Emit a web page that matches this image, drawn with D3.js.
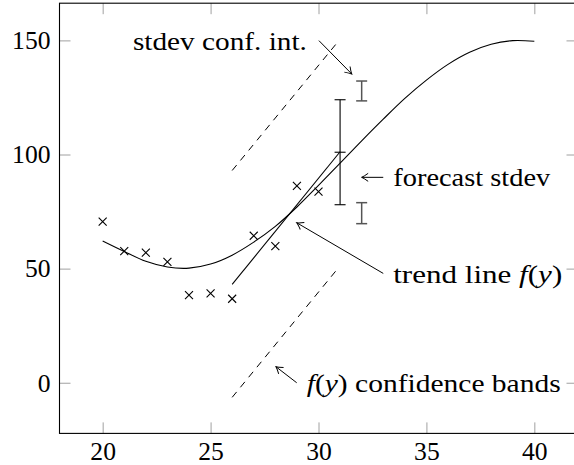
<!DOCTYPE html>
<html>
<head>
<meta charset="utf-8">
<script src="https://cdn.jsdelivr.net/npm/d3@7"></script>
<style>
  body { margin: 0; background: #fff; }
  text { font-family: "Liberation Serif", "Times New Roman", serif; fill: #000; }
</style>
</head>
<body>
<div id="chart"></div>
<script>
// tick values
const xTicks = [20, 25, 30, 35, 40];
const yTicks = [0, 50, 100, 150];

// observations (crosses)
const obsX = [20, 21, 22, 23, 24, 25, 26, 27, 28, 29, 30];
const obsY = [70.6, 57.7, 57.0, 53.0, 38.4, 39.2, 36.8, 64.4, 59.9, 86.3, 83.7];

// smooth fitted curve
const fitX = [20, 21, 22, 23, 24, 25, 26, 27, 28, 29, 30, 31, 32, 33, 34, 35, 36, 37, 38, 39, 40];
const fitY = [62.1, 57.5, 53.2, 50.7, 50.2, 52.0, 55.9, 61.6, 68.5, 77.0, 86.5, 96.2, 106.0, 115.5, 124.6, 132.6, 139.5, 144.8, 148.3, 149.9, 149.6];

// trend line f(y) and its confidence bands
const trendX = [26, 31];
const trendY = [43.1, 101.2];
const bandX = [26, 30.9];
const bandUpper = [93.0, 149.4];
const bandLower = [-6.4, 50.1];

// forecast with stdev at x = 31
const forecastX = 31;
const forecastLow = 78.0, forecastMid = 101.0, forecastHigh = 124.0;

// stdev confidence interval bars at x = 32
const ciX = 32;
const ciUpper = [123.5, 132.2];
const ciLower = [69.7, 78.9];

// annotations: label, arrow start, arrow end (data coordinates)
const notes = [
  {label: 'stdev conf. int.', side: 'left', len: 174, from: [30.02, 149.9], to: [31.54, 135.3]},
  {label: 'forecast stdev', side: 'right', len: 157, from: [33.0, 90.0], to: [32.0, 90.0]},
  {label: 'trend line ', math: 'f(y)', side: 'right', len: 169, from: [33.0, 47.9], to: [28.99, 70.1]},
  {label: ' confidence bands', math: 'f(y)', mathFirst: true, side: 'right', len: 254, from: [28.99, 0], to: [28.03, 7.0]}
];

const W = 574, H = 465;
const margin = {left: 59.5, right: -3.5, top: 3.2, bottom: 31.6};
const width = W - margin.left - margin.right;
const height = H - margin.top - margin.bottom;
const tickLen = 11;

const svg = d3.select('#chart')
  .append('svg')
  .attr('width', W)
  .attr('height', H);

svg.append('defs').append('marker')
  .attr('id', 'tip')
  .attr('markerUnits', 'userSpaceOnUse')
  .attr('viewBox', '-8 -5 10 10')
  .attr('refX', 0).attr('refY', 0)
  .attr('markerWidth', 10).attr('markerHeight', 10)
  .attr('orient', 'auto')
  .append('path')
  .attr('d', 'M-6.5,-4 Q-2,-0.8 0,0 Q-2,0.8 -6.5,4')
  .attr('fill', 'none')
  .attr('stroke', '#000')
  .attr('stroke-width', 1);

const chart = svg.append('g')
  .attr('transform', `translate(${margin.left}, ${margin.top})`);

const x = d3.scaleLinear().domain([18, 42]).range([0, width]);
const y = d3.scaleLinear().domain([-22.2, 166.3]).range([height, 0]);

// axes (ticks pointing inward on all four sides)
function styleAxis(g) {
  g.select('.domain').remove();
  g.selectAll('.tick line').attr('stroke', '#a0a0a0').attr('stroke-width', 1);
  g.selectAll('.tick text')
    .attr('font-size', 26)
    .attr('font-family', '"Liberation Serif", serif')
    .attr('textLength', d => String(d).length * 12.8)
    .attr('lengthAdjust', 'spacingAndGlyphs');
}

chart.append('g')
  .attr('transform', `translate(0, ${height})`)
  .call(d3.axisBottom(x).tickValues(xTicks).tickSize(-tickLen).tickPadding(8).tickSizeOuter(0))
  .call(styleAxis);

chart.append('g')
  .call(d3.axisTop(x).tickValues(xTicks).tickSize(-tickLen).tickFormat('').tickSizeOuter(0))
  .call(styleAxis);

chart.append('g')
  .call(d3.axisLeft(y).tickValues(yTicks).tickSize(-tickLen).tickPadding(9).tickSizeOuter(0))
  .call(styleAxis);

chart.append('g')
  .attr('transform', `translate(${width}, 0)`)
  .call(d3.axisRight(y).tickValues(yTicks).tickSize(-tickLen).tickFormat('').tickSizeOuter(0))
  .call(styleAxis);

chart.append('rect')
  .attr('width', width)
  .attr('height', height)
  .attr('fill', 'none')
  .attr('stroke', '#000')
  .attr('stroke-width', 1.1);

const line = d3.line().x(d => x(d[0])).y(d => y(d[1]));

// fitted curve
chart.append('path')
  .datum(d3.zip(fitX, fitY))
  .attr('d', line.curve(d3.curveCatmullRom))
  .attr('fill', 'none')
  .attr('stroke', '#000')
  .attr('stroke-width', 1.1);

line.curve(d3.curveLinear);

// trend line
chart.append('path')
  .datum(d3.zip(trendX, trendY))
  .attr('d', line)
  .attr('fill', 'none')
  .attr('stroke', '#000')
  .attr('stroke-width', 1.1);

// confidence bands
[bandUpper, bandLower].forEach(b => {
  chart.append('path')
    .datum(d3.zip(bandX, b))
    .attr('d', line)
    .attr('fill', 'none')
    .attr('stroke', '#000')
    .attr('stroke-width', 1)
    .attr('stroke-dasharray', '7,6');
});

// crosses
const cross = 4;
chart.selectAll('.obs')
  .data(d3.zip(obsX, obsY))
  .enter()
  .append('path')
  .attr('class', 'obs')
  .attr('transform', d => `translate(${x(d[0])}, ${y(d[1])})`)
  .attr('d', `M${-cross},${-cross}L${cross},${cross}M${-cross},${cross}L${cross},${-cross}`)
  .attr('stroke', '#000')
  .attr('stroke-width', 1.1);

// error bars
const cap = 5.5;
function errorBar(xv, lo, hi, color, sw) {
  const g = chart.append('g').attr('stroke', color).attr('stroke-width', sw);
  g.append('line').attr('x1', x(xv)).attr('x2', x(xv)).attr('y1', y(lo)).attr('y2', y(hi));
  [lo, hi].forEach(v => {
    g.append('line').attr('x1', x(xv) - cap).attr('x2', x(xv) + cap).attr('y1', y(v)).attr('y2', y(v));
  });
  return g;
}

const fg = errorBar(forecastX, forecastLow, forecastHigh, '#000', 1.1);
fg.append('line')
  .attr('x1', x(forecastX) - cap).attr('x2', x(forecastX) + cap)
  .attr('y1', y(forecastMid)).attr('y2', y(forecastMid));

errorBar(ciX, ciUpper[0], ciUpper[1], '#555', 1.5);
errorBar(ciX, ciLower[0], ciLower[1], '#555', 1.5);

// annotations
notes.forEach(n => {
  const [x1, y1] = [x(n.from[0]), y(n.from[1])];
  const [x2, y2] = [x(n.to[0]), y(n.to[1])];
  chart.append('line')
    .attr('x1', x1).attr('y1', y1).attr('x2', x2).attr('y2', y2)
    .attr('stroke', '#000')
    .attr('stroke-width', 1)
    .attr('marker-end', 'url(#tip)');

  const t = chart.append('text')
    .attr('font-size', 26)
    .attr('x', n.side === 'left' ? x1 - 12 : x1 + 10)
    .attr('y', y1)
    .attr('dy', '0.35em')
    .attr('text-anchor', n.side === 'left' ? 'end' : 'start')
    .attr('textLength', n.len)
    .attr('lengthAdjust', 'spacingAndGlyphs');

  const addMath = () => {
    t.append('tspan').attr('font-style', 'italic').text('f');
    t.append('tspan').text('(');
    t.append('tspan').attr('font-style', 'italic').text('y');
    t.append('tspan').text(')');
  };
  if (n.math && n.mathFirst) addMath();
  t.append('tspan').text(n.label);
  if (n.math && !n.mathFirst) addMath();
});
</script>
</body>
</html>
